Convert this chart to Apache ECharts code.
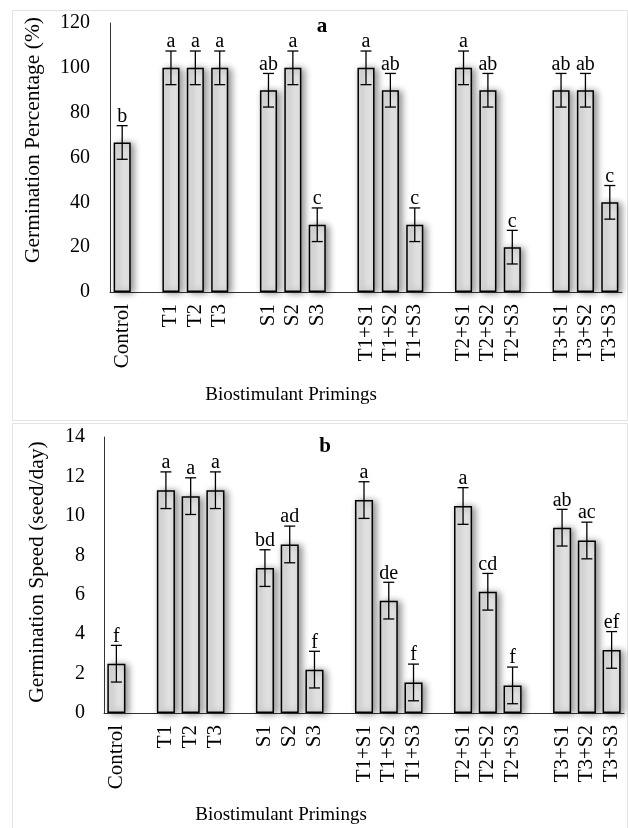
<!DOCTYPE html>
<html><head><meta charset="utf-8">
<script src="https://cdn.jsdelivr.net/npm/echarts@6/dist/echarts.min.js"></script>
<style>html,body{margin:0;padding:0;background:#fff}#c{width:628px;height:828px}</style>
</head><body><div id="c"></div>
<script>
// ---- data ----
const groups = [
  ['Control'],
  ['T1', 'T2', 'T3'],
  ['S1', 'S2', 'S3'],
  ['T1+S1', 'T1+S2', 'T1+S3'],
  ['T2+S1', 'T2+S2', 'T2+S3'],
  ['T3+S1', 'T3+S2', 'T3+S3']
];
const germPercent    = [66.7, 100, 100, 100, 90, 100, 30, 100, 90, 30, 100, 90, 20, 90, 90, 40];
const germPercentErr = [7.5, 7.5, 7.5, 7.5, 7.5, 7.5, 7.5, 7.5, 7.5, 7.5, 7.5, 7.5, 7.5, 7.5, 7.5, 7.5];
const germPercentLetters = ['b', 'a', 'a', 'a', 'ab', 'a', 'c', 'a', 'ab', 'c', 'a', 'ab', 'c', 'ab', 'ab', 'c'];

const germSpeed    = [2.5, 11.3, 11.0, 11.3, 7.35, 8.55, 2.2, 10.8, 5.7, 1.55, 10.5, 6.15, 1.4, 9.4, 8.75, 3.2];
const germSpeedErr = [0.93, 0.93, 0.93, 0.93, 0.93, 0.93, 0.93, 0.93, 0.93, 0.93, 0.93, 0.93, 0.93, 0.93, 0.93, 0.93];
const germSpeedLetters = ['f', 'a', 'a', 'a', 'bd', 'ad', 'f', 'a', 'de', 'f', 'a', 'cd', 'f', 'ab', 'ac', 'ef'];

const percentTicks = {min: 0, max: 120, interval: 20};
const speedTicks = {min: 0, max: 14, interval: 2};

const xAxisTitle = 'Biostimulant Primings';
const yTitleA = 'Germination Percentage (%)';
const yTitleB = 'Germination Speed (seed/day)';

// ---- build category slots (blank slot between groups) ----
const categories = [];
const slotOf = [];
groups.forEach((g, gi) => {
  if (gi > 0) categories.push('');
  g.forEach(t => { slotOf.push(categories.length); categories.push(t); });
});

function barData(vals) {
  const d = categories.map(() => null);
  vals.forEach((v, i) => { d[slotOf[i]] = v; });
  return d;
}
function errData(vals, errs) {
  return vals.map((v, i) => [slotOf[i], v, errs[i], i]);
}

const FONT = '"Liberation Serif", "Times New Roman", serif';

function errRenderer(letters) {
  return function (params, api) {
    const x = api.value(0), v = api.value(1), e = api.value(2), idx = api.value(3);
    const top = api.coord([x, v + e]);
    const bot = api.coord([x, v - e]);
    const hw = 5.5;
    const ls = {stroke: '#000', lineWidth: 1.3};
    return {
      type: 'group',
      children: [
        {type: 'line', shape: {x1: top[0], y1: top[1], x2: bot[0], y2: bot[1]}, style: ls},
        {type: 'line', shape: {x1: top[0] - hw, y1: top[1], x2: top[0] + hw, y2: top[1]}, style: ls},
        {type: 'line', shape: {x1: bot[0] - hw, y1: bot[1], x2: bot[0] + hw, y2: bot[1]}, style: ls},
        {type: 'text', x: top[0], y: top[1] + 1,
         style: {text: letters[idx], textAlign: 'center', textVerticalAlign: 'bottom',
                 font: '20px ' + FONT, fill: '#000'}}
      ]
    };
  };
}

const barStyle = {
  color: '#e3e3e3', borderColor: '#000', borderWidth: 1.5,
  shadowBlur: 7, shadowColor: 'rgba(0,0,0,0.45)', shadowOffsetX: 3, shadowOffsetY: 1
};

function xAxisCfg(gi) {
  return {
    type: 'category', gridIndex: gi, data: categories,
    axisTick: {show: false},
    axisLine: {lineStyle: {color: '#333', width: 1}},
    axisLabel: {interval: 0, rotate: 90, margin: 12, fontSize: 21, fontFamily: FONT, color: '#000'}
  };
}
function yAxisCfg(gi, t, margin) {
  return {
    type: 'value', gridIndex: gi, min: t.min, max: t.max, interval: t.interval,
    splitLine: {show: false}, axisTick: {show: false},
    axisLine: {show: true, lineStyle: {color: '#333', width: 1}},
    axisLabel: {margin: margin, fontSize: 20, fontFamily: FONT, color: '#000'}
  };
}

const chart = echarts.init(document.getElementById('c'), null, {renderer: 'canvas'});
chart.setOption({
  animation: false,
  backgroundColor: '#fff',
  grid: [
    {left: 110, right: 6, top: 23, height: 269},
    {left: 104, right: 4, top: 437, height: 276}
  ],
  xAxis: [xAxisCfg(0), xAxisCfg(1)],
  yAxis: [yAxisCfg(0, percentTicks, 20), yAxisCfg(1, speedTicks, 19)],
  graphic: [
    {type: 'rect', shape: {x: 12.5, y: 10.5, width: 615, height: 410}, style: {fill: 'none', stroke: '#e3e3e3', lineWidth: 1}, z: -10},
    {type: 'rect', shape: {x: 12.5, y: 423.5, width: 615, height: 420}, style: {fill: 'none', stroke: '#e3e3e3', lineWidth: 1}, z: -10},
    {type: 'text', x: 322, y: 27, style: {text: 'a', font: 'bold 21px ' + FONT, textAlign: 'center', textVerticalAlign: 'middle', fill: '#000'}},
    {type: 'text', x: 325, y: 447, style: {text: 'b', font: 'bold 21px ' + FONT, textAlign: 'center', textVerticalAlign: 'middle', fill: '#000'}},
    {type: 'text', x: 33, y: 140, rotation: Math.PI / 2, style: {text: yTitleA, font: '21.5px ' + FONT, textAlign: 'center', textVerticalAlign: 'middle', fill: '#000'}},
    {type: 'text', x: 37, y: 572, rotation: Math.PI / 2, style: {text: yTitleB, font: '21.5px ' + FONT, textAlign: 'center', textVerticalAlign: 'middle', fill: '#000'}},
    {type: 'text', x: 291, y: 395, style: {text: xAxisTitle, font: '19px ' + FONT, textAlign: 'center', textVerticalAlign: 'middle', fill: '#000'}},
    {type: 'text', x: 281, y: 815, style: {text: xAxisTitle, font: '19px ' + FONT, textAlign: 'center', textVerticalAlign: 'middle', fill: '#000'}}
  ],
  series: [
    {type: 'bar', xAxisIndex: 0, yAxisIndex: 0, data: barData(germPercent), barWidth: '70%', itemStyle: barStyle},
    {type: 'custom', xAxisIndex: 0, yAxisIndex: 0, data: errData(germPercent, germPercentErr), renderItem: errRenderer(germPercentLetters), z: 5},
    {type: 'bar', xAxisIndex: 1, yAxisIndex: 1, data: barData(germSpeed), barWidth: '73%', itemStyle: barStyle},
    {type: 'custom', xAxisIndex: 1, yAxisIndex: 1, data: errData(germSpeed, germSpeedErr), renderItem: errRenderer(germSpeedLetters), z: 5}
  ]
});
</script></body></html>
